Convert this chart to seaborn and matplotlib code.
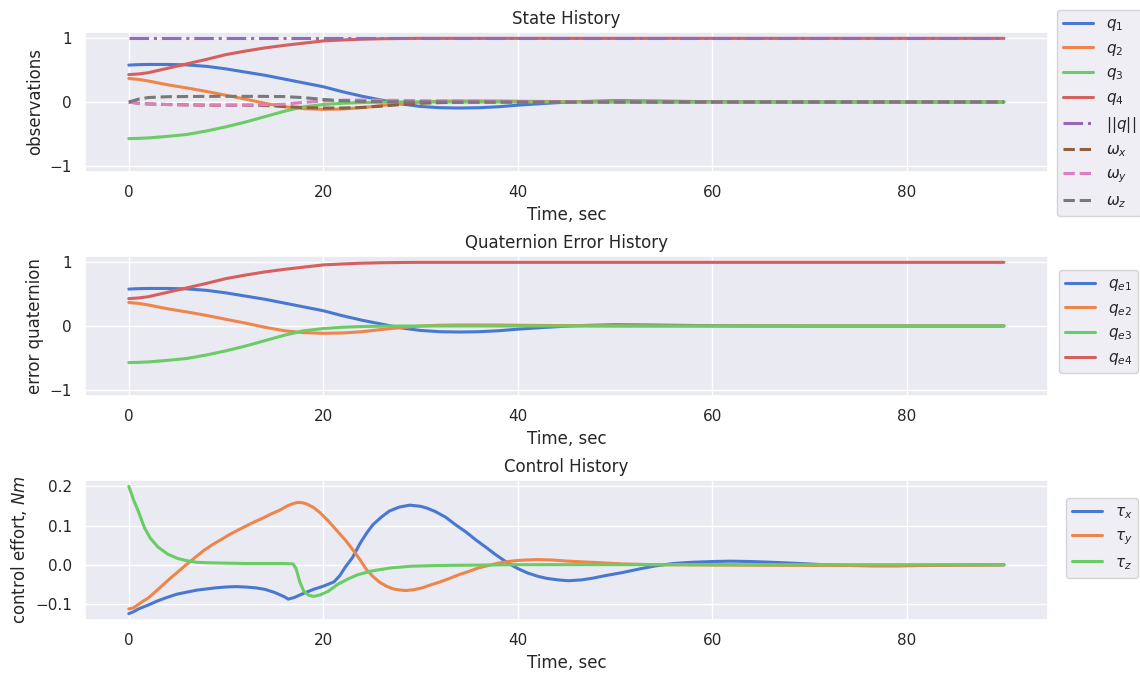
import matplotlib
matplotlib.use("Agg")
import matplotlib.pyplot as plt
import seaborn as sns

sns.set_theme(style="darkgrid", palette="muted")
plt.rcParams["font.family"] = ["DejaVu Sans"]

# ---------------- attitude state (quaternion + body rates) ----------------
t_state = [0, 1, 2, 4, 6, 8, 10, 12, 14, 16, 18, 20, 22, 24, 26, 28, 30, 32,
           34, 36, 38, 40, 43, 46, 50, 54, 58, 62, 70, 80, 90]
q1 = [0.58, 0.587, 0.59, 0.59, 0.583, 0.56, 0.52, 0.47, 0.42, 0.36, 0.30,
      0.24, 0.16, 0.09, 0.03, -0.03, -0.07, -0.09, -0.095, -0.09, -0.075,
      -0.05, -0.02, 0.005, 0.02, 0.015, 0.008, 0.003, 0.0, 0.0, 0.0]
q2 = [0.37, 0.355, 0.33, 0.27, 0.22, 0.165, 0.105, 0.045, -0.02, -0.075,
      -0.105, -0.115, -0.11, -0.09, -0.055, -0.025, 0.0, 0.012, 0.016, 0.016,
      0.015, 0.012, 0.008, 0.005, 0.002, 0.0, 0.0, 0.0, 0.0, 0.0, 0.0]
q3 = [-0.575, -0.572, -0.565, -0.54, -0.51, -0.455, -0.39, -0.315, -0.23,
      -0.145, -0.075, -0.04, -0.02, -0.008, -0.003, 0.0, 0.0, 0.0, 0.0, 0.0,
      0.0, 0.0, 0.0, 0.0, 0.0, 0.0, 0.0, 0.0, 0.0, 0.0, 0.0]
q4 = [0.43, 0.44, 0.46, 0.53, 0.60, 0.67, 0.745, 0.80, 0.85, 0.89, 0.925,
      0.96, 0.975, 0.987, 0.994, 0.998, 1.0, 1.0, 1.0, 1.0, 1.0, 1.0, 1.0,
      1.0, 1.0, 1.0, 1.0, 1.0, 1.0, 1.0, 1.0]
q_norm = [1.0] * len(t_state)
w_x = [0.0, -0.02, -0.03, -0.04, -0.045, -0.05, -0.05, -0.05, -0.055, -0.07,
       -0.088, -0.095, -0.095, -0.085, -0.065, -0.04, -0.02, -0.01, -0.003,
       0.0, 0.0, 0.0, 0.0, 0.0, 0.0, 0.0, 0.0, 0.0, 0.0, 0.0, 0.0]
w_y = [0.0, -0.025, -0.03, -0.04, -0.045, -0.05, -0.05, -0.05, -0.045,
       -0.035, -0.005, 0.015, 0.028, 0.03, 0.028, 0.025, 0.02, 0.018, 0.015,
       0.012, 0.01, 0.008, 0.005, 0.003, 0.001, 0.0, 0.0, 0.0, 0.0, 0.0, 0.0]
w_z = [0.0, 0.045, 0.07, 0.083, 0.086, 0.088, 0.089, 0.089, 0.088, 0.085,
       0.068, 0.04, 0.02, 0.01, 0.004, 0.002, 0.0, 0.0, 0.0, 0.0, 0.0, 0.0,
       0.0, 0.0, 0.0, 0.0, 0.0, 0.0, 0.0, 0.0, 0.0]

# error quaternion (target attitude is the identity quaternion)
qe1, qe2, qe3, qe4 = q1, q2, q3, q4

# ---------------- control torques ----------------
t_tx = [0, 0.5, 1, 2, 3, 4, 5, 6, 7, 8, 9, 10, 11, 12, 13, 14, 15, 16, 16.4,
        17, 18, 19, 20, 21.1, 21.7, 22.3, 23, 23.8, 24.5, 25.1, 26, 26.8,
        27.8, 28.9, 30, 30.6, 31.5, 32.6, 33.6, 34.7, 35.7, 36.7, 37.7, 38.7,
        39.5, 40.1, 41, 42.1, 43, 44.2, 45.2, 46.5, 47.6, 49, 50.8, 52.5,
        54.2, 56, 57.8, 60, 61.9, 64, 66.3, 69, 71.4, 74, 76.5, 79, 81.6, 85,
        90]
tau_x = [-0.125, -0.12, -0.113, -0.103, -0.092, -0.083, -0.075, -0.07,
         -0.065, -0.062, -0.059, -0.057, -0.056, -0.057, -0.059, -0.063,
         -0.071, -0.082, -0.088, -0.084, -0.073, -0.063, -0.055, -0.044,
         -0.028, -0.005, 0.018, 0.055, 0.082, 0.102, 0.122, 0.137, 0.147,
         0.152, 0.149, 0.145, 0.136, 0.121, 0.102, 0.083, 0.063, 0.045, 0.026,
         0.009, -0.003, -0.011, -0.021, -0.030, -0.035, -0.039, -0.041,
         -0.039, -0.035, -0.028, -0.020, -0.011, -0.003, 0.003, 0.006, 0.008,
         0.009, 0.008, 0.006, 0.003, 0.0, -0.002, -0.003, -0.003, -0.002,
         -0.001, 0.0]

t_ty = [0, 0.5, 1.3, 2, 2.65, 3.5, 4.35, 5.2, 6.05, 7, 7.75, 8.6, 9.5, 10.3,
        11.2, 12, 12.9, 13.8, 14.6, 15.5, 16.3, 16.9, 17.4, 17.9, 18.3, 19,
        19.7, 20.5, 21.4, 22.3, 23.1, 23.8, 24.4, 25.1, 25.8, 26.5, 27.2, 28,
        28.5, 29.3, 30.2, 31, 31.9, 32.9, 33.9, 35, 36, 37, 38, 39, 40.1, 41,
        42.1, 43.5, 45.2, 47.6, 50.8, 54, 60, 70, 80, 90]
tau_y = [-0.113, -0.11, -0.096, -0.085, -0.071, -0.052, -0.033, -0.015,
         0.003, 0.022, 0.037, 0.051, 0.064, 0.076, 0.088, 0.098, 0.109, 0.119,
         0.129, 0.139, 0.150, 0.156, 0.159, 0.158, 0.155, 0.146, 0.132, 0.112,
         0.087, 0.062, 0.036, 0.012, -0.011, -0.030, -0.045, -0.055, -0.062,
         -0.065, -0.066, -0.064, -0.059, -0.052, -0.045, -0.036, -0.026,
         -0.017, -0.008, -0.002, 0.004, 0.008, 0.011, 0.012, 0.013, 0.012,
         0.009, 0.006, 0.002, 0.0, -0.001, -0.002, -0.002, -0.001]

t_tz = [0, 0.5, 1, 1.6, 2.2, 3, 4, 5, 6, 7, 8, 10, 12, 14, 16, 16.9, 17.2,
        17.6, 18, 18.5, 19, 19.7, 20.5, 21.5, 22.5, 23.5, 25, 27, 29, 32, 36,
        40, 50, 60, 70, 80, 90]
tau_z = [0.2, 0.165, 0.135, 0.095, 0.068, 0.045, 0.027, 0.016, 0.01, 0.006,
         0.005, 0.004, 0.003, 0.003, 0.003, 0.002, -0.01, -0.045, -0.068,
         -0.078, -0.081, -0.077, -0.068, -0.05, -0.037, -0.026, -0.016,
         -0.008, -0.004, -0.002, -0.001, 0.0, 0.0, 0.0, 0.0, 0.0, 0.0]

pal = sns.color_palette("muted")
c_blue, c_orange, c_green, c_red = pal[0], pal[1], pal[2], pal[3]
c_purple, c_brown, c_pink, c_gray = pal[4], pal[5], pal[6], pal[7]

fig, axes = plt.subplots(3, 1, figsize=(11.4, 6.75), dpi=100)
fig.subplots_adjust(left=0.0746, right=0.919, top=0.9526, bottom=0.0815,
                    hspace=0.6)
ax1, ax2, ax3 = axes
lw = 2.2

# State history
for y, c, ls, lab in [
    (q1, c_blue, "-", r"$q_1$"),
    (q2, c_orange, "-", r"$q_2$"),
    (q3, c_green, "-", r"$q_3$"),
    (q4, c_red, "-", r"$q_4$"),
    (q_norm, c_purple, "-.", r"$||q||$"),
    (w_x, c_brown, "--", r"$\omega_x$"),
    (w_y, c_pink, "--", r"$\omega_y$"),
    (w_z, c_gray, "--", r"$\omega_z$"),
]:
    sns.lineplot(x=t_state, y=y, ax=ax1, color=c, linestyle=ls, label=lab,
                 linewidth=lw)
ax1.set_ylim(-1.1, 1.1)
ax1.set_yticks([-1, 0, 1])
ax1.set_title("State History")
ax1.set_ylabel("observations")
ax1.legend(loc="upper left", bbox_to_anchor=(1.0094, 1.157), borderaxespad=0)

# Quaternion error history
for y, c, lab in [
    (qe1, c_blue, r"$q_{e1}$"),
    (qe2, c_orange, r"$q_{e2}$"),
    (qe3, c_green, r"$q_{e3}$"),
    (qe4, c_red, r"$q_{e4}$"),
]:
    sns.lineplot(x=t_state, y=y, ax=ax2, color=c, label=lab, linewidth=lw)
ax2.set_ylim(-1.1, 1.1)
ax2.set_yticks([-1, 0, 1])
ax2.set_title("Quaternion Error History")
ax2.set_ylabel("error quaternion")
ax2.legend(loc="upper left", bbox_to_anchor=(1.0114, 0.9), borderaxespad=0)

# Control history
for x, y, c, lab in [
    (t_tx, tau_x, c_blue, r"$\tau_x$"),
    (t_ty, tau_y, c_orange, r"$\tau_y$"),
    (t_tz, tau_z, c_green, r"$\tau_z$"),
]:
    sns.lineplot(x=x, y=y, ax=ax3, color=c, label=lab, linewidth=lw)
ax3.set_title("Control History")
ax3.set_ylabel(r"control effort, $Nm$")
ax3.set_yticks([-0.1, 0.0, 0.1, 0.2])
ax3.legend(loc="upper left", bbox_to_anchor=(1.0187, 0.871), borderaxespad=0)

for ax in axes:
    ax.set_xlabel("Time, sec")
    ax.set_xticks([0, 20, 40, 60, 80])

fig.savefig("out.png", dpi=100)
